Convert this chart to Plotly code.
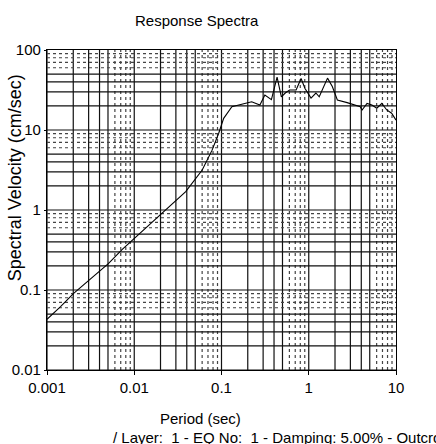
import numpy as np
import plotly.graph_objects as go

# ---- data ----
period = [0.001, 0.00143, 0.00202, 0.00505, 0.00724, 0.01153, 0.0231, 0.0389,
          0.0601, 0.078, 0.0929, 0.1059, 0.1315, 0.1862, 0.2218, 0.2754,
          0.3141, 0.3733, 0.4335, 0.4853, 0.5383, 0.6026, 0.7161, 0.8166,
          0.9057, 1.0617, 1.2078, 1.3183, 1.6406, 1.8621, 2.1281, 2.7542,
          3.8905, 4.0832, 4.6559, 5.2966, 6.0256, 6.8865, 7.8343, 8.9125, 10.0]
sv = [0.043, 0.062, 0.091, 0.214, 0.32, 0.51, 1.0, 1.7,
      3.16, 5.6, 9.1, 14.0, 19.6, 21.5, 22.5, 20.5,
      27.4, 24.0, 45.7, 26.0, 29.0, 31.6, 31.6, 44.0,
      33.0, 25.0, 29.0, 26.0, 44.5, 35.0, 23.7, 22.0,
      19.6, 17.8, 21.5, 20.5, 18.7, 21.5, 17.8, 16.2, 13.3]

x_ticks = [0.001, 0.01, 0.1, 1, 10]
x_tick_text = ["0.001", "0.01", "0.1", "1", "10"]
y_ticks = [0.01, 0.1, 1, 10, 100]
y_tick_text = ["0.01", "0.1", "1", "10", "100"]

W, H = 436, 444
L, R, T, B = 43, 40, 50, 74
PW, PH = W - L - R, H - T - B

def px(x):
    return (x - L) / PW

def py(y):
    return (H - B - y) / PH

fig = go.Figure()
fig.add_trace(go.Scatter(x=period, y=sv, mode="lines",
                         line=dict(color="black", width=1.1),
                         showlegend=False, hoverinfo="skip"))

# grid lines
shapes = []
def gline(dotted):
    return dict(color="#444" if dotted else "#111", width=1.2,
                dash="dot" if dotted else "solid")

for d in range(-3, 1):
    for k in range(1, 10):
        v = k * 10.0 ** d
        shapes.append(dict(type="line", xref="x", yref="paper", x0=v, x1=v,
                           y0=0, y1=1, layer="below", line=gline(k >= 6)))
for d in range(-2, 2):
    for k in range(1, 10):
        v = k * 10.0 ** d
        shapes.append(dict(type="line", xref="paper", yref="y", y0=v, y1=v,
                           x0=0, x1=1, layer="below", line=gline(k >= 6)))

font = dict(family="Arial, Liberation Sans, sans-serif", color="black")

fig.update_layout(
    width=W, height=H,
    margin=dict(l=L, r=R, t=T, b=B),
    paper_bgcolor="white", plot_bgcolor="white",
    shapes=shapes,
    font=font,
    xaxis=dict(type="log", range=[-3, 1], tickvals=x_ticks, ticktext=x_tick_text,
               showgrid=False, showline=True, linecolor="black", linewidth=1.2,
               mirror=True, ticks="outside", ticklen=4, tickcolor="black",
               tickfont=dict(size=15, **font), zeroline=False),
    yaxis=dict(type="log", range=[-2, 2], tickvals=y_ticks, ticktext=y_tick_text,
               showgrid=False, showline=True, linecolor="black", linewidth=1.2,
               mirror=True, ticks="outside", ticklen=2, tickcolor="black",
               tickfont=dict(size=15, **font), zeroline=False),
    annotations=[
        dict(text="Response Spectra", xref="paper", yref="paper",
             x=px(195), y=py(20), xanchor="center", yanchor="middle",
             showarrow=False, font=dict(size=15, **font)),
        dict(text="Spectral Velocity (cm/sec)", xref="paper", yref="paper",
             x=px(11), y=py(178), xanchor="center", yanchor="middle",
             textangle=-90, showarrow=False, font=dict(size=18, **font)),
        dict(text="Period (sec)", xref="paper", yref="paper",
             x=px(198), y=py(418), xanchor="center", yanchor="middle",
             showarrow=False, font=dict(size=15, **font)),
        dict(text="/ Layer:  1 - EQ No:  1 - Damping: 5.00% - Outcrop",
             xref="paper", yref="paper",
             x=px(108), y=py(437), xanchor="left", yanchor="middle",
             showarrow=False, font=dict(size=15, **font)),
    ],
)

fig.write_html("out.html")
